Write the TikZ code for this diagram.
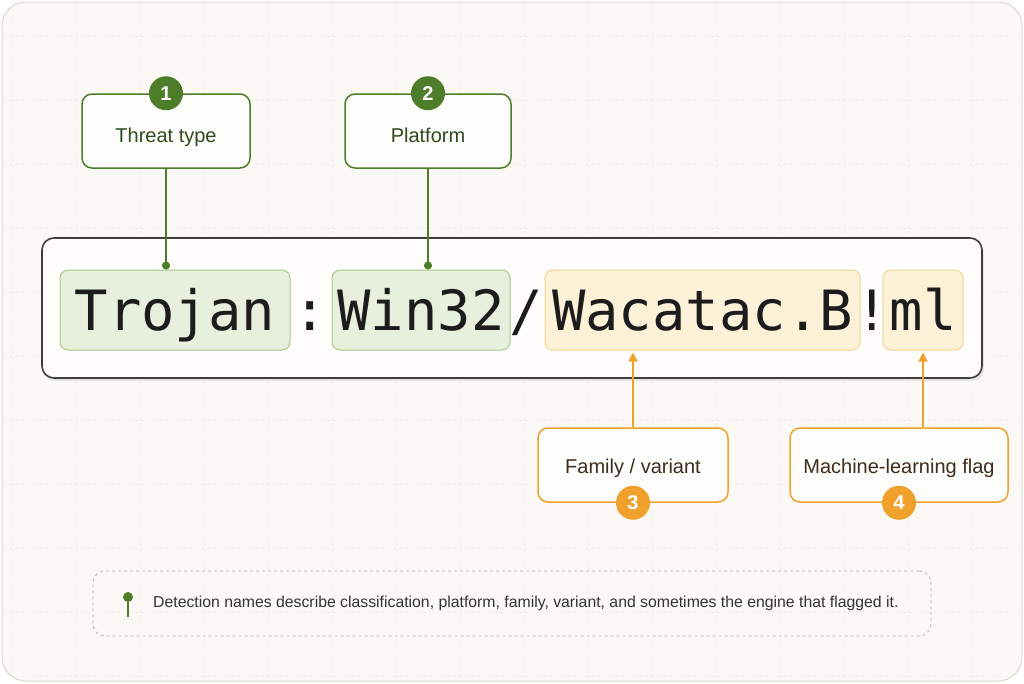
\documentclass[tikz,border=0pt]{standalone}
\usepackage{fontspec}
\setmainfont{Liberation Sans}
\setmonofont{DejaVu Sans Mono}
\usetikzlibrary{positioning,arrows.meta}
\definecolor{paper}{HTML}{FAF9F5}
\definecolor{rim}{HTML}{DCD8CC}
\definecolor{gridline}{HTML}{F1EFE9}
\definecolor{ink}{HTML}{1C1C1C}
\definecolor{leaf}{HTML}{4E7D2A}
\definecolor{leafdark}{HTML}{2F4A1F}
\definecolor{leaffill}{HTML}{E7F0DC}
\definecolor{leafline}{HTML}{A8C98B}
\definecolor{amber}{HTML}{EFA12B}
\definecolor{amberdark}{HTML}{3E2C1C}
\definecolor{amberfill}{HTML}{FDF1D8}
\definecolor{amberline}{HTML}{F7D08B}
\tikzset{
  code/.style={font=\ttfamily\fontsize{55.5}{60}\selectfont, text=ink, text height=40pt, text depth=0pt, inner sep=0pt},
  token/.style={code, rounded corners=8pt, line width=1pt, minimum height=80pt},
  greentok/.style={token, draw=leafline, fill=leaffill},
  ambertok/.style={token, draw=amberline, fill=amberfill},
  callout/.style={rounded corners=10pt, line width=1.5pt, fill=white!60!paper, minimum height=74pt,
                  text depth=0pt, font=\fontsize{20}{22}\selectfont},
  badge/.style={circle, minimum size=34pt, inner sep=0pt, text=white, font=\bfseries\fontsize{20}{22}\selectfont},
}
\begin{document}
\begin{tikzpicture}[x=1pt, y=-1pt]
    \useasboundingbox (0,0) rectangle (1024,683);
    \fill[white] (0,0) rectangle (1024,683);
    % Paper card with a faint dashed grid
    \draw[rim, fill=paper, line width=1pt, rounded corners=24pt] (2,2) rectangle (1022,681);
    \begin{scope}
        \clip[rounded corners=24pt] (3,3) rectangle (1021,680);
        \foreach \gx in {12,76,...,1012} {
            \draw[gridline, dashed, line width=0.5pt] (\gx,3) -- (\gx,680);
        }
        \foreach \gy in {36,100,...,676} {
            \draw[gridline, dashed, line width=0.5pt] (3,\gy) -- (1021,\gy);
        }
    \end{scope}
    % Detection name strip
    \fill[black, opacity=0.08, rounded corners=12pt] (43,241) rectangle (984,381);
    \node[draw=ink!85, fill=white!70!paper, line width=1.6pt, rounded corners=12pt,
          minimum width=940pt, minimum height=140pt] (strip) at (512,308) {};
    \node[greentok, minimum width=230pt] (trojan) at (175,310) {Trojan};
    \node[code] (colon) at (310,310) {:};
    \node[greentok, minimum width=178pt] (win) at (421,310) {Win32};
    \node[code] (slash) at (526,310) {/};
    \node[ambertok, minimum width=315pt] (wacatac) at (702.5,310) {Wacatac.B};
    \node[code] (bang) at (872,310) {!};
    \node[ambertok, minimum width=80pt] (ml) at (923,310) {ml};
    % Callouts above
    \node[callout, draw=leaf, text=leafdark, text height=22pt, minimum width=168pt] (threat) at (166,131) {Threat type};
    \node[badge, fill=leaf] (b1) at (threat.north) {1};
    \node[callout, draw=leaf, text=leafdark, text height=22pt, minimum width=166pt] (platform) at (428,131) {Platform};
    \node[badge, fill=leaf] (b2) at (platform.north) {2};
    \draw[leaf, line width=1.6pt, -{Circle[length=8pt]}] (threat.south) -- (threat.south |- trojan.north);
    \draw[leaf, line width=1.6pt, -{Circle[length=8pt]}] (platform.south) -- (platform.south |- win.north);
    % Callouts below
    \node[callout, draw=amber, text=amberdark, text height=16pt, minimum width=190pt] (family) at (633,465) {Family / variant};
    \node[badge, fill=amber] (b3) at (family.south) {3};
    \node[callout, draw=amber, text=amberdark, text height=16pt, minimum width=218pt] (mlflag) at (899,465) {Machine-learning flag};
    \node[badge, fill=amber] (b4) at (mlflag.south) {4};
    \draw[amber, line width=1.6pt, -{Triangle[length=9pt, width=9pt]}, shorten >=2pt] (family.north) -- (family.north |- wacatac.south);
    \draw[amber, line width=1.6pt, -{Triangle[length=9pt, width=9pt]}, shorten >=2pt] (mlflag.north -| ml.south) -- (ml.south);
    % Footnote
    \node[draw=black!30, dashed, line width=0.8pt, rounded corners=12pt,
          minimum width=838pt, minimum height=65pt] (note) at (512,603.5) {};
    \node[circle, fill=leaf, inner sep=0pt, minimum size=10pt] (pin) at (128,597) {};
    \coordinate (pinfoot) at (128,617);
    \draw[leaf, line width=1.8pt] (pin) -- (pinfoot);
    \node[anchor=west, text=ink!90, font=\fontsize{15.8}{18}\selectfont, inner sep=0pt] (notetext) at (153,603)
        {Detection names describe classification, platform, family, variant, and sometimes the engine that flagged it.};
\end{tikzpicture}
\end{document}
